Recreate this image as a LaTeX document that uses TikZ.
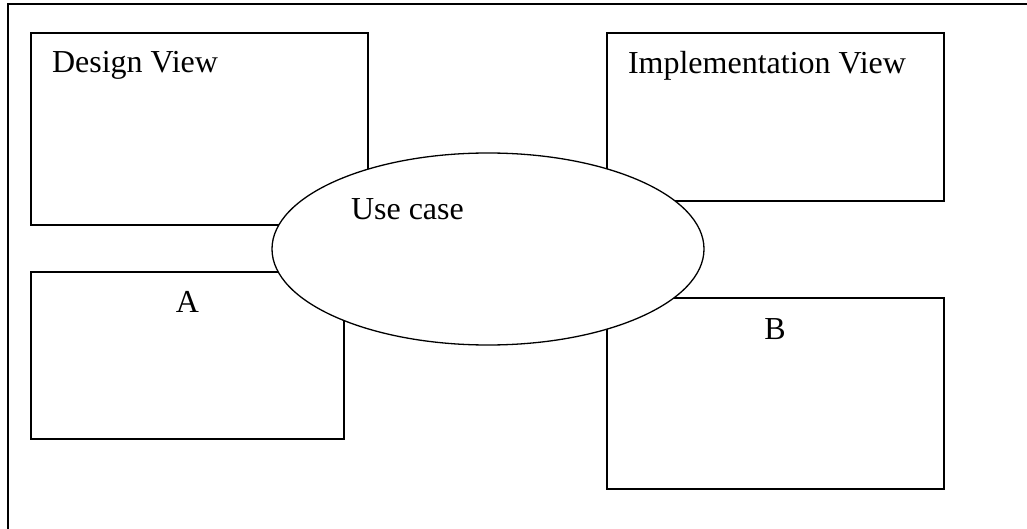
\documentclass[tikz,border=0pt]{standalone}
\usepackage{fontspec}
\setmainfont{Liberation Serif}
\usetikzlibrary{shapes.geometric}
\begin{document}
\begin{tikzpicture}[x=1pt,y=-1pt,
  box/.style={draw=black,line width=1.6pt,fill=white,rectangle,inner sep=0pt,outer sep=0pt},
  uc/.style={draw=black,line width=1.3pt,fill=white,ellipse,inner sep=0pt,outer sep=0pt},
  lbl/.style={inner sep=0pt,outer sep=0pt,anchor=base west,font=\fontsize{32}{38}\selectfont}]
\useasboundingbox (0,0) rectangle (1027,529);
\draw[line width=1.8pt] (8,529) -- (8,4) -- (1027,4);
\node[box,minimum width=337pt,minimum height=192pt] (design) at (199.5,129) {};
\node[box,minimum width=337pt,minimum height=168pt] (impl) at (775.5,117) {};
\node[box,minimum width=313pt,minimum height=167pt] (a) at (187.5,355.5) {};
\node[box,minimum width=337pt,minimum height=191pt] (b) at (775.5,393.5) {};
\node[uc,minimum width=432pt,minimum height=192pt] (usecase) at (488,249) {};
\node[lbl] (tdesign) at (52,73) {Design View};
\node[lbl] (timpl) at (628,74) {Implementation View};
\node[lbl,anchor=base] (ta) at (187.5,312) {A};
\node[lbl,anchor=base] (tb) at (775,339) {B};
\node[lbl] (tuc) at (351,220) {Use case};
\end{tikzpicture}
\end{document}
